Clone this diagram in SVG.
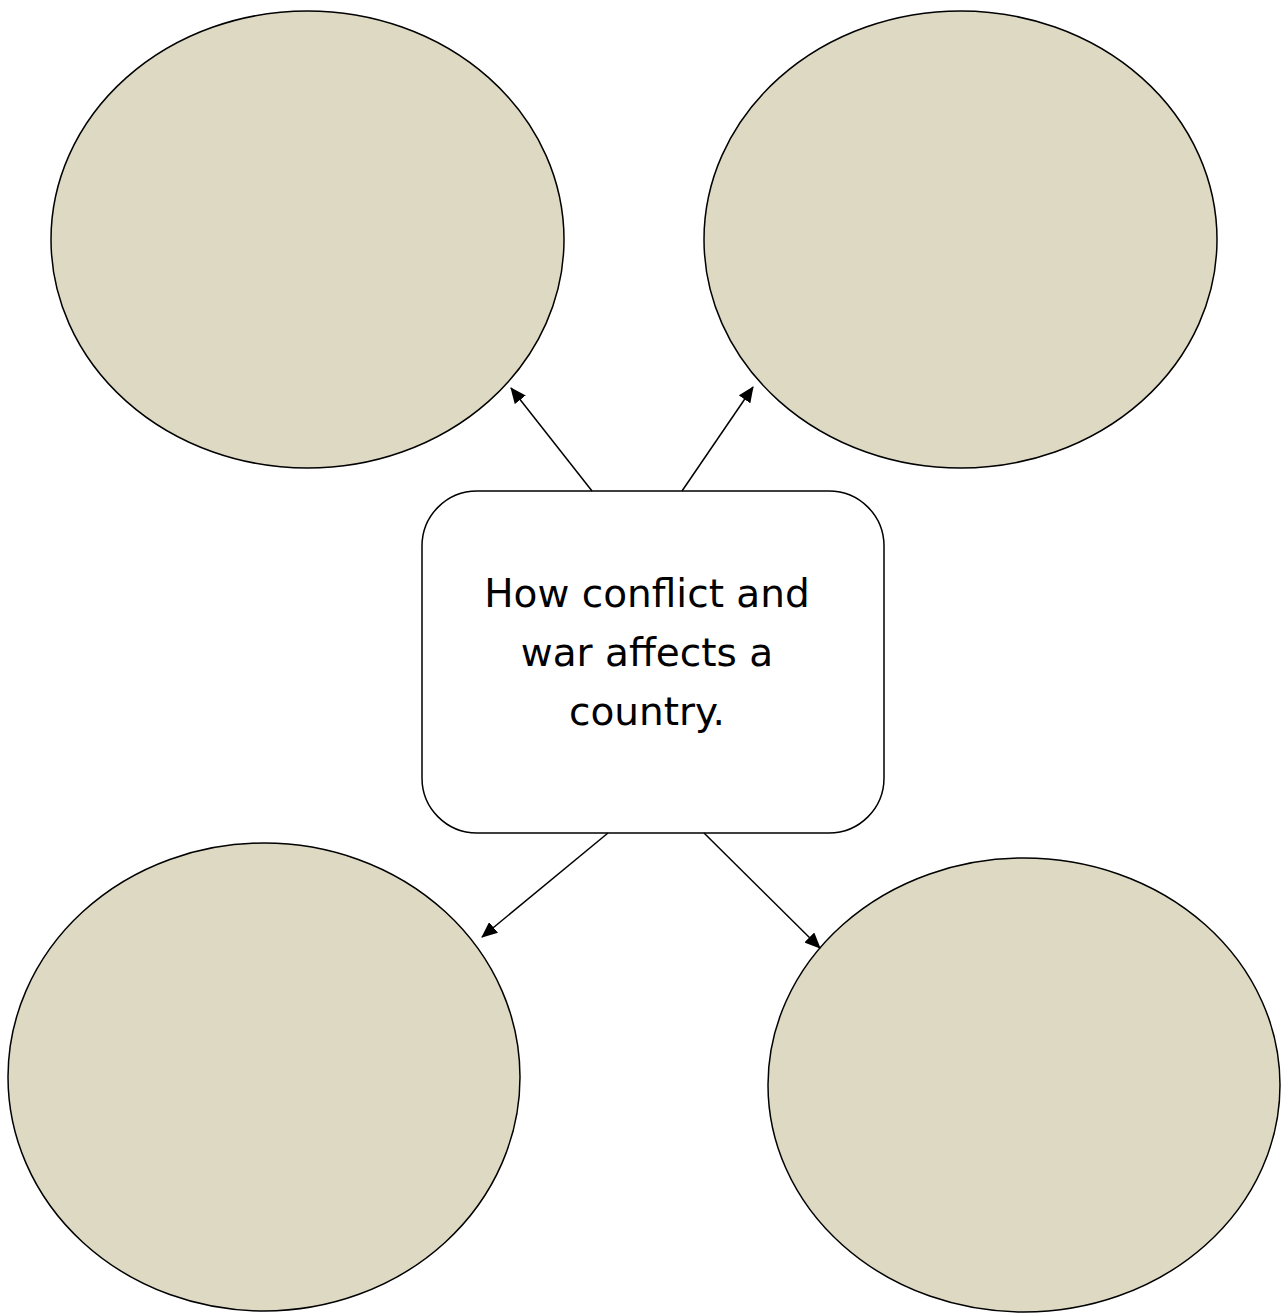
<svg xmlns="http://www.w3.org/2000/svg" width="1282" height="1313" viewBox="0 0 1282 1313">
  <style>
    .bubble { fill: #DDD9C3; stroke: #000; stroke-width: 1.5; }
    .center { fill: #fff; stroke: #000; stroke-width: 1.5; }
    .label { font-family: "DejaVu Sans", sans-serif; font-size: 39px; fill: #000; text-anchor: middle; }
    .conn { stroke: #000; stroke-width: 1.5; fill: none; marker-end: url(#arrow); }
  </style>
  <defs>
    <marker id="arrow" markerUnits="userSpaceOnUse" markerWidth="16" markerHeight="14" refX="15" refY="7" orient="auto">
      <path d="M0,0 L16,7 L0,14 Z" fill="#000"/>
    </marker>
  </defs>
  <rect width="1282" height="1313" fill="#fff"/>
  <g id="node-top-left">
    <ellipse class="bubble" cx="307.5" cy="239.5" rx="256.5" ry="228.5"/>
  </g>
  <g id="node-top-right">
    <ellipse class="bubble" cx="960.5" cy="239.5" rx="256.5" ry="228.5"/>
  </g>
  <g id="node-bottom-left">
    <ellipse class="bubble" cx="264" cy="1077" rx="256" ry="234"/>
  </g>
  <g id="node-bottom-right">
    <ellipse class="bubble" cx="1024" cy="1085" rx="256" ry="227"/>
  </g>
  <g id="node-center">
    <rect class="center" x="422" y="491" width="462" height="342" rx="55" ry="55"/>
    <text class="label" x="647" y="607">How conflict and</text>
    <text class="label" x="647" y="666">war affects a</text>
    <text class="label" x="647" y="725">country.</text>
  </g>
  <g id="connectors">
    <line class="conn" x1="592" y1="491" x2="511" y2="388"/>
    <line class="conn" x1="682" y1="491" x2="753" y2="387"/>
    <line class="conn" x1="608" y1="833" x2="482" y2="937"/>
    <line class="conn" x1="704" y1="833" x2="820" y2="948"/>
  </g>
</svg>
